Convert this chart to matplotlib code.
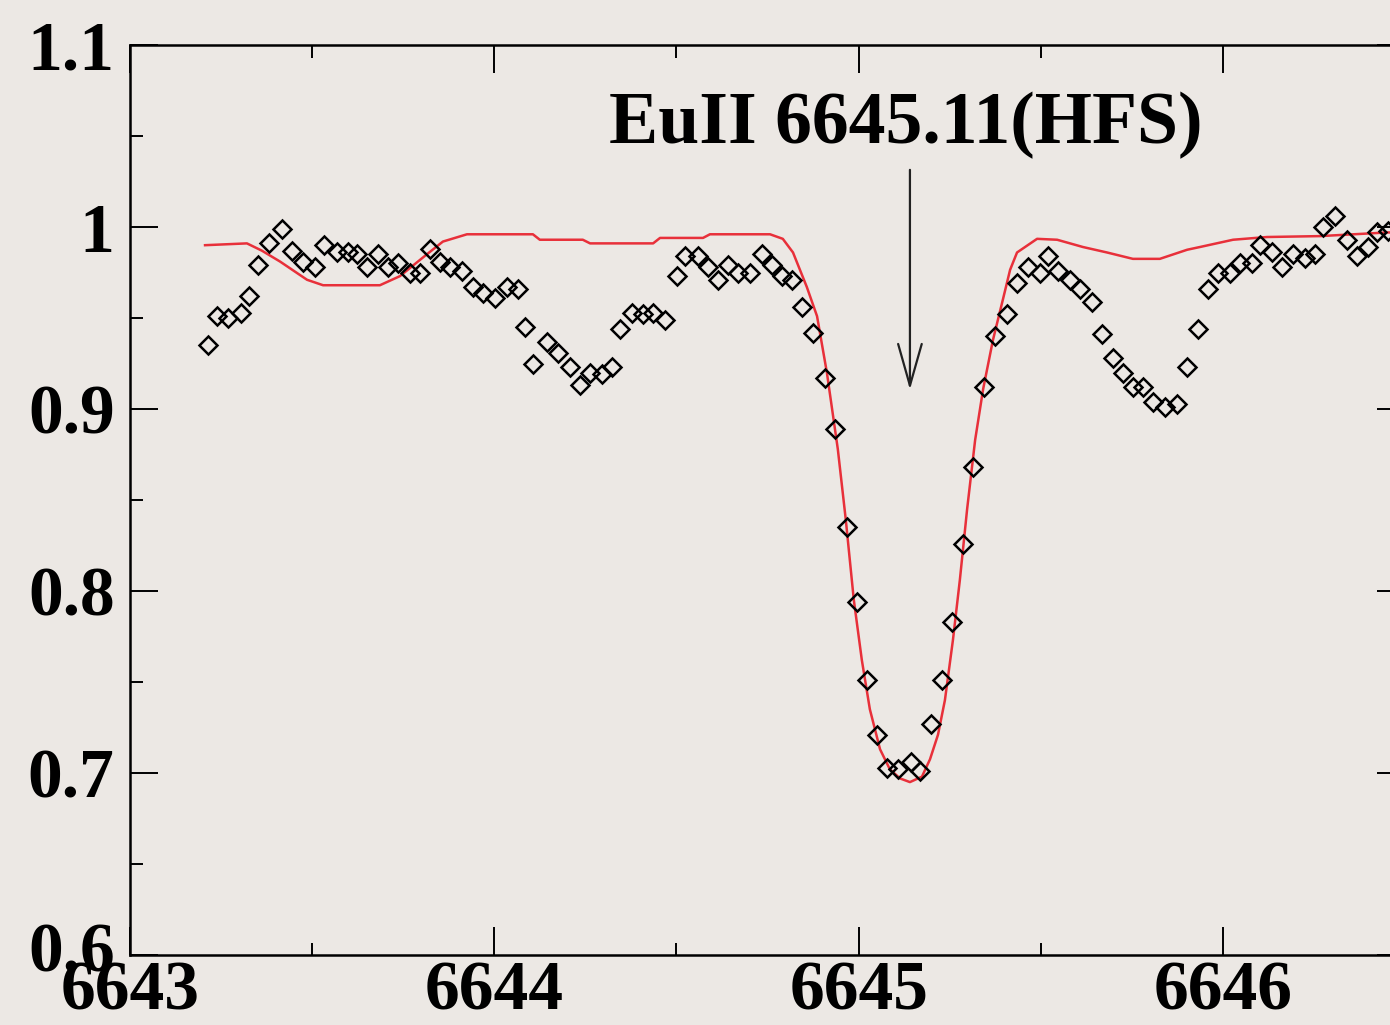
import matplotlib
matplotlib.use("Agg")
import matplotlib.pyplot as plt
import matplotlib.transforms as mtransforms
from matplotlib.ticker import MultipleLocator

# observed spectrum (diamonds)
obs_wave = [6643.214, 6643.239, 6643.269, 6643.305, 6643.327, 6643.351, 6643.382, 6643.417,
            6643.445, 6643.475, 6643.508, 6643.533, 6643.568, 6643.598, 6643.623, 6643.651,
            6643.681, 6643.708, 6643.736, 6643.769, 6643.796, 6643.824, 6643.851, 6643.878,
            6643.911, 6643.942, 6643.969, 6644.002, 6644.035, 6644.065, 6644.084, 6644.106,
            6644.145, 6644.175, 6644.208, 6644.235, 6644.263, 6644.296, 6644.323, 6644.345,
            6644.378, 6644.408, 6644.436, 6644.469, 6644.502, 6644.523, 6644.559, 6644.587,
            6644.614, 6644.642, 6644.669, 6644.702, 6644.735, 6644.762, 6644.790, 6644.817,
            6644.845, 6644.875, 6644.908, 6644.935, 6644.968, 6644.996, 6645.023, 6645.051,
            6645.078, 6645.108, 6645.144, 6645.169, 6645.199, 6645.229, 6645.256, 6645.287,
            6645.314, 6645.344, 6645.374, 6645.407, 6645.435, 6645.465, 6645.498, 6645.520,
            6645.547, 6645.580, 6645.608, 6645.641, 6645.668, 6645.698, 6645.726, 6645.753,
            6645.781, 6645.808, 6645.841, 6645.874, 6645.902, 6645.932, 6645.959, 6645.987,
            6646.020, 6646.047, 6646.080, 6646.102, 6646.135, 6646.162, 6646.192, 6646.225,
            6646.253, 6646.275, 6646.308, 6646.341, 6646.368, 6646.398, 6646.423, 6646.453]
obs_flux = [0.935, 0.951, 0.950, 0.953, 0.962, 0.979, 0.991, 0.999,
            0.987, 0.981, 0.978, 0.990, 0.986, 0.986, 0.985, 0.978,
            0.985, 0.978, 0.980, 0.975, 0.975, 0.988, 0.981, 0.978,
            0.976, 0.967, 0.964, 0.961, 0.967, 0.966, 0.945, 0.925,
            0.937, 0.931, 0.923, 0.913, 0.920, 0.919, 0.923, 0.944,
            0.953, 0.952, 0.953, 0.949, 0.973, 0.984, 0.984, 0.978,
            0.971, 0.979, 0.975, 0.975, 0.985, 0.979, 0.973, 0.971,
            0.956, 0.942, 0.917, 0.889, 0.835, 0.794, 0.751, 0.721,
            0.703, 0.702, 0.706, 0.701, 0.727, 0.751, 0.783, 0.826,
            0.868, 0.912, 0.940, 0.952, 0.969, 0.978, 0.975, 0.984,
            0.976, 0.971, 0.966, 0.959, 0.941, 0.928, 0.920, 0.912,
            0.912, 0.904, 0.901, 0.903, 0.923, 0.944, 0.966, 0.975,
            0.975, 0.980, 0.980, 0.990, 0.986, 0.978, 0.985, 0.983,
            0.985, 1.000, 1.006, 0.993, 0.984, 0.989, 0.997, 0.998]

# synthetic spectrum (red line)
syn_wave = [6643.206, 6643.321, 6643.362, 6643.412, 6643.486, 6643.530, 6643.686, 6643.741,
            6643.815, 6643.859, 6643.925, 6644.106, 6644.125, 6644.243, 6644.263, 6644.436,
            6644.455, 6644.573, 6644.592, 6644.757, 6644.792, 6644.820, 6644.858, 6644.886,
            6644.913, 6644.943, 6644.965, 6644.987, 6645.009, 6645.031, 6645.059, 6645.086,
            6645.114, 6645.141, 6645.174, 6645.196, 6645.218, 6645.237, 6645.259, 6645.278,
            6645.298, 6645.320, 6645.342, 6645.369, 6645.396, 6645.416, 6645.435, 6645.490,
            6645.545, 6645.616, 6645.682, 6645.753, 6645.827, 6645.902, 6645.937, 6646.028,
            6646.121, 6646.267, 6646.451, 6646.600]
syn_flux = [0.990, 0.991, 0.987, 0.981, 0.971, 0.968, 0.968, 0.973,
            0.985, 0.992, 0.996, 0.996, 0.993, 0.993, 0.991, 0.991,
            0.994, 0.994, 0.996, 0.996, 0.9935, 0.986, 0.967, 0.951,
            0.920, 0.878, 0.839, 0.795, 0.762, 0.735, 0.713, 0.702,
            0.697, 0.695, 0.698, 0.7075, 0.721, 0.740, 0.773, 0.806,
            0.845, 0.883, 0.911, 0.938, 0.960, 0.9765, 0.986, 0.9935,
            0.993, 0.989, 0.986, 0.9825, 0.9825, 0.9875, 0.989, 0.993,
            0.9945, 0.995, 0.997, 0.997]

line_label = "EuII 6645.11(HFS)"
line_center = 6645.141

bg = "#ECE8E4"
plt.rcParams["font.family"] = ["Liberation Serif", "DejaVu Serif"]
plt.rcParams["font.weight"] = "bold"

fig = plt.figure(figsize=(13.9, 10.25), dpi=100, facecolor=bg)
ax = fig.add_axes([130 / 1390, 1 - 955 / 1025, (1405 - 130) / 1390, 910 / 1025])
ax.set_facecolor(bg)

ax.plot(syn_wave, syn_flux, color="#E8303A", lw=1.8, zorder=2)
ax.plot(obs_wave, obs_flux, linestyle="none", marker="D", markersize=9,
        markerfacecolor="none", markeredgecolor="black", markeredgewidth=1.8, zorder=3)

# line identification with arrow
ax.annotate("", xy=(line_center, 0.9106), xytext=(line_center, 1.0314),
            arrowprops=dict(arrowstyle="->,head_length=3.0,head_width=0.85",
                            mutation_scale=10, lw=1.6, color="#222222",
                            shrinkA=0, shrinkB=0))
ax.text(6645.13, 1.056, line_label, ha="center", va="center",
        fontsize=53, fontweight="bold")

ax.set_xlim(6643, 6646.5)
ax.set_ylim(0.6, 1.1)
ax.xaxis.set_major_locator(MultipleLocator(1))
ax.xaxis.set_minor_locator(MultipleLocator(0.5))
ax.yaxis.set_minor_locator(MultipleLocator(0.05))
ax.set_yticks([0.6, 0.7, 0.8, 0.9, 1.0, 1.1])
ax.set_yticklabels(["0.6", "0.7", "0.8", "0.9", "1", "1.1"])

ax.tick_params(which="both", direction="in", top=True, right=True,
               width=1.4, color="black", labelsize=50)
ax.tick_params(which="major", length=20)
ax.tick_params(which="minor", length=9)
ax.tick_params(axis="y", pad=11)
ax.tick_params(axis="x", pad=4)
for s in ax.spines.values():
    s.set_linewidth(1.8)

# the lowest y label sits a bit above the axis corner
lbl = ax.get_yticklabels()[0]
lbl.set_transform(lbl.get_transform() +
                  mtransforms.ScaledTranslation(0, 8 / 100, fig.dpi_scale_trans))

fig.savefig("out.png", dpi=100, facecolor=bg)
